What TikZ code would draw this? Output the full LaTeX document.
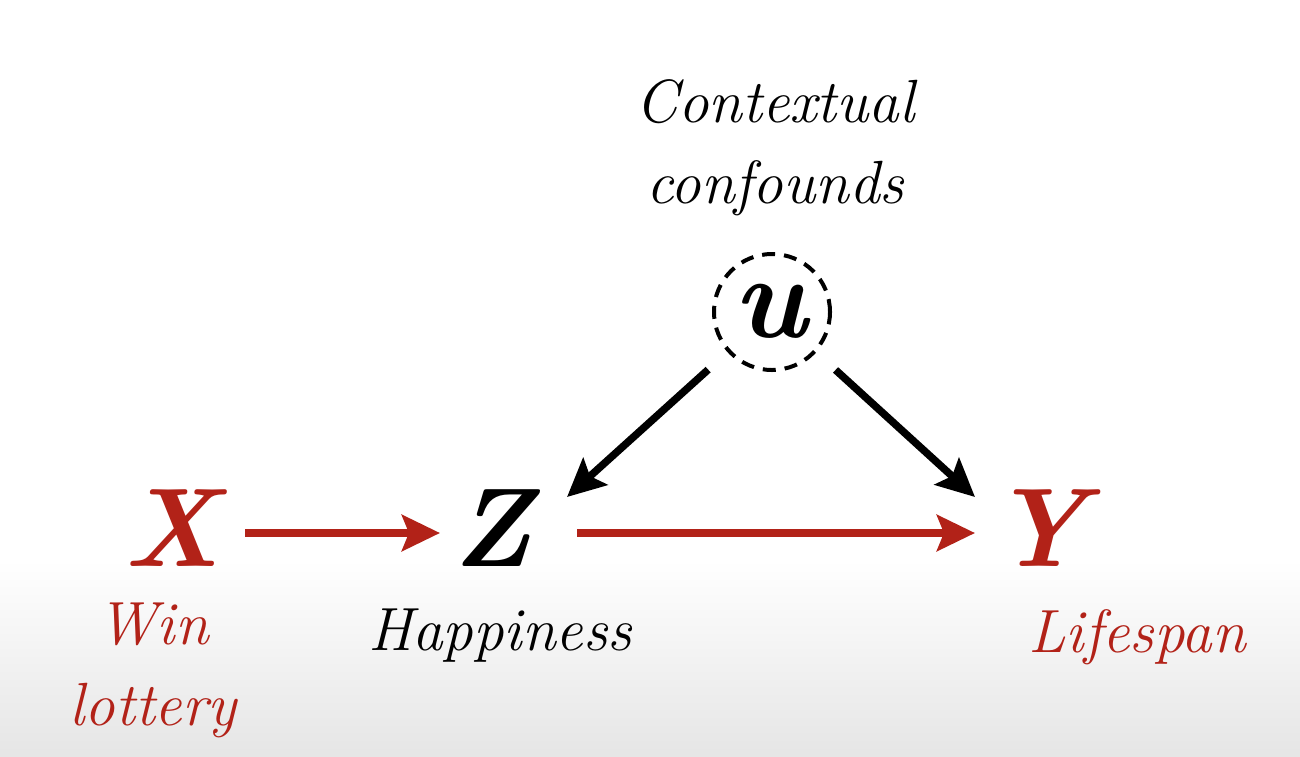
\documentclass[tikz,border=0pt]{standalone}
\usetikzlibrary{arrows.meta}
\definecolor{dred}{RGB}{178,34,24}
\begin{document}
\begin{tikzpicture}[x=1pt,y=-1pt,
  bigvar/.style={inner sep=0pt,anchor=base,font=\fontsize{112}{112}\selectfont\bfseries\itshape},
  lbl/.style={inner sep=0pt,anchor=base,align=center,font=\fontsize{61}{81}\selectfont\itshape},
  arr/.style={line width=7.5pt,-{Stealth[length=38pt,width=36pt,inset=7pt]}},
]
\useasboundingbox (0,0) rectangle (1300,756);
\fill[white] (0,0) rectangle (1300,560);
\shade[top color=white,bottom color=black!10] (0,560) rectangle (1300,756);
% variables
\node[bigvar,text=dred] (X) at (172,566) {X};
\node[bigvar] (Z) at (492,566) {Z};
\node[bigvar,text=dred] (Y) at (1039,566) {Y};
\node[circle,draw,dashed,line width=4pt,dash pattern=on 13pt off 9pt,minimum size=116pt,inner sep=0pt] (u) at (772,312) {};
\node[bigvar,font=\fontsize{118}{118}\selectfont\bfseries\itshape] (ut) at (770,337) {u};
% labels
\node[lbl] (ctx) at (775,203) {Contextual\\confounds};
\node[lbl,text=dred] (win) at (153,725) {Win\\lottery};
\node[lbl] (hap) at (500,650) {Happiness};
\node[lbl,text=dred] (life) at (1137,652) {Lifespan};
% connector end points
\coordinate (xs) at (245,533);
\coordinate (zi) at (440,533);
\coordinate (zs) at (577,533);
\coordinate (yi) at (975,533);
\coordinate (zt) at (567,497);
\coordinate (yt) at (975,497);
% connectors
\draw[arr,dred] (xs) -- (zi);
\draw[arr,dred] (zs) -- (yi);
\draw[arr,shorten <=26pt] (u) -- (zt);
\draw[arr,shorten <=26pt] (u) -- (yt);
\end{tikzpicture}
\end{document}
